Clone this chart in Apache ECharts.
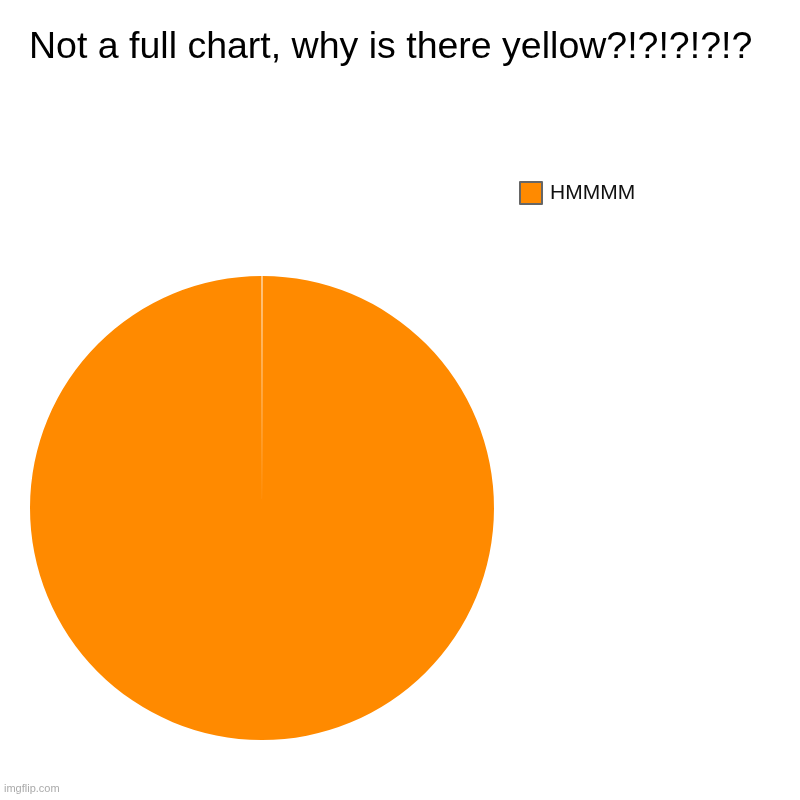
<!DOCTYPE html>
<html>
<head>
<meta charset="utf-8">
<script src="https://cdn.jsdelivr.net/npm/echarts@6/dist/echarts.min.js"></script>
<style>
  html, body { margin: 0; padding: 0; background: #fff; }
  #main { width: 800px; height: 800px; }
</style>
</head>
<body>
<div id="main"></div>
<script>
	//数据
	var categories = ['HMMMM'];
	var values = [1];
	var colors = ['#ff8a00'];

	var myChart = echarts.init(document.getElementById('main'));

	var pieData = [];
	for (var i = 0; i < categories.length; i++) {
		pieData.push({ name: categories[i], value: values[i] });
	}

	myChart.setOption({
		backgroundColor: '#ffffff',
		animation: false,
		color: colors,
		title: {
			text: 'Not a full chart, why is there yellow?!?!?!?!?',
			left: 24,
			top: 24,
			textStyle: {
				fontFamily: '"Liberation Sans", Arial, sans-serif',
				fontSize: 37.5,
				fontWeight: 'normal',
				color: '#000'
			}
		},
		legend: {
			orient: 'vertical',
			left: 514,
			top: 176,
			icon: 'rect',
			itemWidth: 22,
			itemHeight: 22,
			itemGap: 10,
			data: categories,
			itemStyle: { borderColor: '#666', borderWidth: 2 },
			textStyle: { fontFamily: '"Liberation Sans", Arial, sans-serif', fontSize: 21, color: '#111', padding: [0, 0, 0, 3] }
		},
		graphic: [{
			type: 'text',
			left: 4,
			top: 783,
			style: { text: 'imgflip.com', fontFamily: '"Liberation Sans", Arial, sans-serif', fontSize: 11, fill: '#aaa' }
		}],
		series: [{
			type: 'pie',
			center: [262, 508],
			radius: 232,
			startAngle: 90,
			padAngle: 0.25,
			label: { show: false },
			labelLine: { show: false },
			emphasis: { disabled: true },
			itemStyle: { borderWidth: 0 },
			data: pieData
		}]
	});
</script>
</body>
</html>
